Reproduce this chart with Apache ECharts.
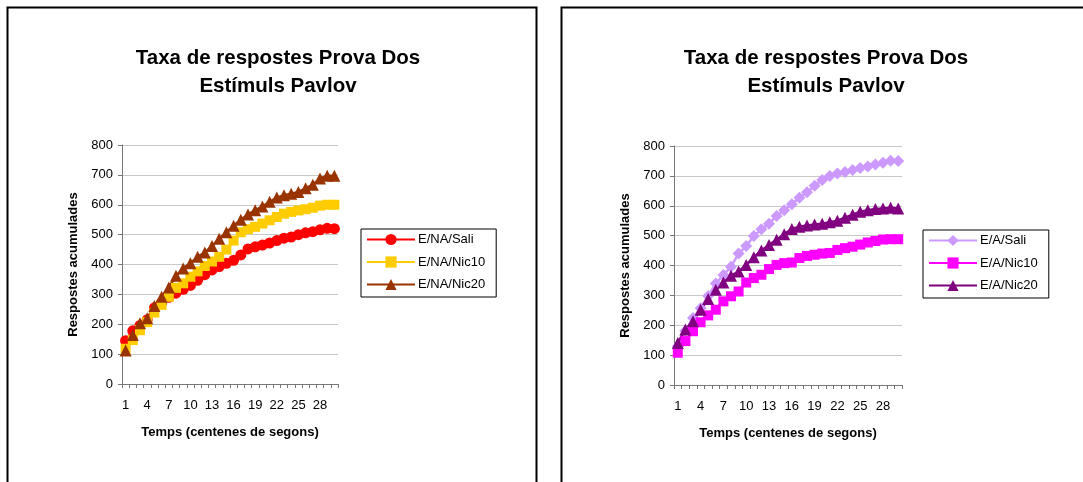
<!DOCTYPE html>
<html>
<head>
<meta charset="utf-8">
<script src="https://cdn.jsdelivr.net/npm/echarts@6/dist/echarts.min.js"></script>
<style>
html,body{margin:0;padding:0;background:#fff;}
#c{width:1083px;height:482px;}
</style>
</head>
<body>
<div id="c"></div>
<script>
// ---- data ----
var categories = [];
for (var k = 1; k <= 30; k++) categories.push(String(k));

var titleText = 'Taxa de respostes Prova Dos\nEstímuls Pavlov';
var yAxisTitle = 'Respostes acumulades';
var xAxisTitle = 'Temps (centenes de segons)';

var leftNames = ['E/NA/Sali', 'E/NA/Nic10', 'E/NA/Nic20'];
var naSali  = [145, 178, 196, 215, 255, 272, 290, 304, 317, 330, 347, 366, 382, 393, 404, 414, 432, 452, 459, 465, 472, 480, 488, 492, 500, 506, 510, 516, 521, 520];
var naNic10 = [118, 147, 180, 207, 239, 265, 292, 322, 337, 359, 377, 395, 410, 426, 450, 480, 508, 518, 526, 537, 548, 559, 570, 576, 581, 585, 590, 597, 600, 600];
var naNic20 = [112, 164, 203, 220, 261, 292, 323, 362, 387, 404, 426, 440, 462, 486, 508, 530, 550, 567, 582, 594, 610, 624, 632, 637, 643, 655, 667, 688, 697, 697];

var rightNames = ['E/A/Sali', 'E/A/Nic10', 'E/A/Nic20'];
var aSali  = [130, 182, 224, 257, 298, 340, 368, 396, 440, 465, 499, 521, 540, 566, 585, 605, 627, 645, 667, 686, 700, 708, 713, 720, 726, 731, 738, 744, 751, 750];
var aNic10 = [108, 147, 180, 210, 233, 252, 280, 297, 313, 343, 358, 369, 388, 402, 408, 410, 425, 432, 436, 440, 442, 452, 458, 463, 470, 477, 482, 487, 488, 488];
var aNic20 = [141, 186, 213, 252, 288, 319, 343, 366, 380, 402, 428, 450, 469, 486, 505, 522, 530, 534, 537, 540, 545, 550, 560, 570, 580, 585, 589, 591, 593, 591];

var leftColors  = ['#FF0000', '#FFCC00', '#993300'];
var rightColors = ['#CC99FF', '#FF00FF', '#800080'];

// ---- chart ----
var FONT = 'Arial, "Liberation Sans", sans-serif';
var chart = echarts.init(document.getElementById('c'), null, {renderer: 'canvas'});

function xAxis(gi) {
  return {
    type: 'category', gridIndex: gi, data: categories, boundaryGap: true,
    name: xAxisTitle, nameLocation: 'middle', nameGap: 42,
    nameTextStyle: {fontFamily: FONT, fontSize: 13, fontWeight: 'bold', color: '#000'},
    axisLine: {lineStyle: {color: '#777', width: 1}},
    axisTick: {show: true, interval: 0, length: 4, inside: false, lineStyle: {color: '#777'}},
    axisLabel: {interval: 2, margin: 15, fontFamily: FONT, fontSize: 13, color: '#000'},
    splitLine: {show: false}
  };
}
function yAxis(gi) {
  return {
    type: 'value', gridIndex: gi, min: 0, max: 800, interval: 100,
    name: yAxisTitle, nameLocation: 'middle', nameGap: 42, nameRotate: 90,
    nameTextStyle: {fontFamily: FONT, fontSize: 13, fontWeight: 'bold', color: '#000'},
    axisLine: {show: true, lineStyle: {color: '#777', width: 1}},
    axisTick: {show: true, length: 4, lineStyle: {color: '#777'}},
    axisLabel: {margin: 9, fontFamily: FONT, fontSize: 13, color: '#000'},
    splitLine: {show: true, lineStyle: {color: '#c8c8c8', width: 1}}
  };
}
function ser(name, data, color, symbol, size, gi) {
  return {
    type: 'line', name: name, data: data, xAxisIndex: gi, yAxisIndex: gi,
    symbol: symbol, symbolSize: size, showAllSymbol: true,
    lineStyle: {color: color, width: 2.5},
    itemStyle: {color: color},
    animation: false
  };
}
function legend(names, left, top) {
  return {
    data: names, orient: 'vertical', left: left, top: top,
    itemWidth: 48, itemHeight: 14, itemGap: 9.5,
    padding: [4, 11, 6, 5],
    borderColor: '#000', borderWidth: 1, backgroundColor: '#fff',
    textStyle: {fontFamily: FONT, fontSize: 13, color: '#000', padding: [0, 0, 0, -2]}
  };
}

var option = {
  backgroundColor: '#fff',
  animation: false,
  title: [
    {text: titleText, left: 273, top: 39, textAlign: 'center',
     textStyle: {fontFamily: FONT, fontSize: 20.5, fontWeight: 'bold', color: '#000', lineHeight: 28}},
    {text: titleText, left: 821, top: 39, textAlign: 'center',
     textStyle: {fontFamily: FONT, fontSize: 20.5, fontWeight: 'bold', color: '#000', lineHeight: 28}}
  ],
  legend: [legend(leftNames, 361, 229), legend(rightNames, 923, 230)],
  grid: [
    {left: 122, top: 145, width: 216, height: 239, containLabel: false},
    {left: 674, top: 146, width: 228, height: 239, containLabel: false}
  ],
  xAxis: [xAxis(0), xAxis(1)],
  yAxis: [yAxis(0), yAxis(1)],
  series: [
    ser(leftNames[0], naSali, leftColors[0], 'circle', 11, 0),
    ser(leftNames[1], naNic10, leftColors[1], 'rect', 10, 0),
    ser(leftNames[2], naNic20, leftColors[2], 'triangle', 12, 0),
    ser(rightNames[0], aSali, rightColors[0], 'diamond', 12, 1),
    ser(rightNames[1], aNic10, rightColors[1], 'rect', 10, 1),
    ser(rightNames[2], aNic20, rightColors[2], 'triangle', 12, 1)
  ],
  graphic: [
    {type: 'rect', shape: {x: 7.5, y: 7.5, width: 529, height: 500}, style: {fill: null, stroke: '#000', lineWidth: 2}, silent: true, z: 100},
    {type: 'rect', shape: {x: 561.5, y: 7.5, width: 600, height: 500}, style: {fill: null, stroke: '#000', lineWidth: 2}, silent: true, z: 100}
  ]
};
chart.setOption(option);
</script>
</body>
</html>
